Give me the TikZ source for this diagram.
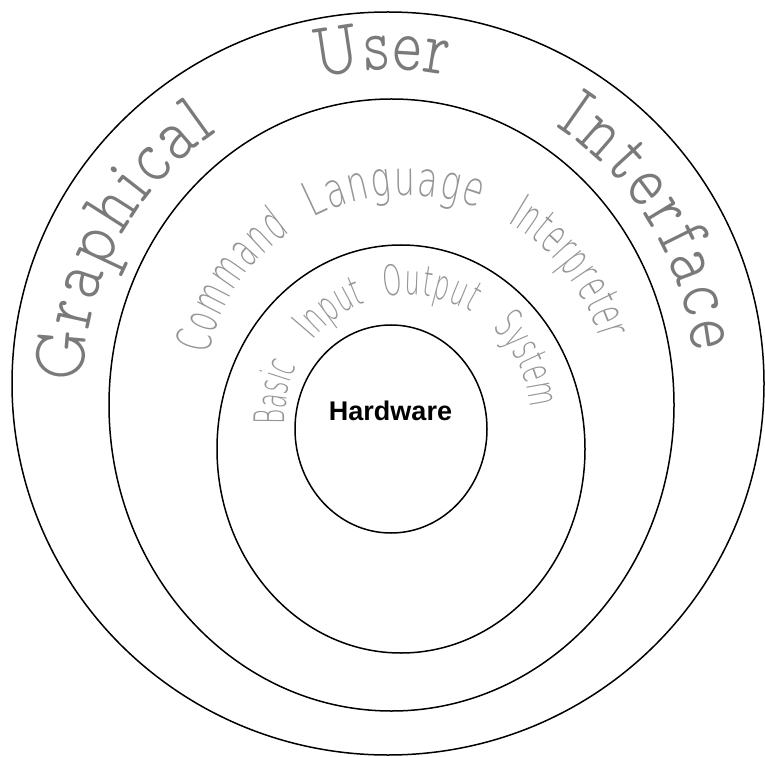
\documentclass[tikz,border=0pt]{standalone}
\usepackage{fontspec}
\usetikzlibrary{shapes.geometric,decorations.text}

% thin serif for the outer ring
\newfontfamily\guiface{lmmonoproplt10-regular.otf}[FakeStretch=0.8]

% thin condensed sans for the inner rings, one width per word
\IfFontExistsTF{DejaVuSans-ExtraLight.ttf}
  {\newcommand\layerfile{DejaVuSans-ExtraLight.ttf}}
  {\IfFontExistsTF{DejaVu Sans ExtraLight}
     {\newcommand\layerfile{DejaVu Sans ExtraLight}}
     {\newcommand\layerfile{DejaVu Sans}}}
\newcommand\layerfam[2]{\newfontfamily#1{\layerfile}[FakeStretch=#2]}
\layerfam\cliC{0.58}
\layerfam\cliL{0.69}
\layerfam\cliI{0.555}
\layerfam\biosB{0.55}
\layerfam\biosI{0.6}
\layerfam\biosO{0.58}
\layerfam\biosS{0.58}

\newfontfamily\hwface{Liberation Sans}

\newcommand\guifont{\guiface\fontsize{78}{80}\selectfont}
\newcommand\clisize{\fontsize{48}{50}\selectfont}
\newcommand\biossize{\fontsize{42}{44}\selectfont}

\definecolor{guigray}{HTML}{7A7A7A}
\definecolor{layergray}{HTML}{959595}

% word set clockwise along a circular arc: center, radius, start, end, font, colour, text
\newcommand\ringword[7]{%
  \path[decorate, decoration={text along path, text={|#5|#7},
        text align=fit to path, text color=#6}]
    (#1) ++(#3:#2pt) arc[start angle=#3, end angle=#4, radius=#2pt];}

\tikzset{ring/.style={draw=black, ellipse, inner sep=0pt, line width=1.5pt}}

\begin{document}
\begin{tikzpicture}[x=1pt, y=1pt]
  \fill[white] (0,0) rectangle (765,756);
  \useasboundingbox (0,0) rectangle (765,756);

  % the four layers
  \node[ring, minimum width=752pt, minimum height=743pt] (gui)  at (388,372.5) {};
  \node[ring, minimum width=565pt, minimum height=612pt] (cli)  at (391.5,351) {};
  \node[ring, minimum width=368pt, minimum height=408pt] (bios) at (401,307) {};
  \node[ring, minimum width=192pt, minimum height=208pt] (hw)   at (391,327) {};

  % centres of the lettering arcs
  \coordinate (guic)  at (387,373);
  \coordinate (clic)  at (406,359);
  \coordinate (biosc) at (408,338);

  \ringword{guic}{303}{180}{124}{\guifont}{guigray}{Graphical}
  \ringword{guic}{313}{103}{79}{\guifont}{guigray}{User}
  \ringword{guic}{307}{57}{6}{\guifont}{guigray}{Interface}

  \ringword{clic}{202}{168}{125}{\cliC\clisize}{layergray}{Command}
  \ringword{clic}{202}{117.7}{69}{\cliL\clisize}{layergray}{Language}
  \ringword{clic}{202}{60}{16.4}{\cliI\clisize}{layergray}{Interpreter}

  \ringword{biosc}{123}{183}{155}{\biosB\biossize}{layergray}{Basic}
  \ringword{biosc}{123}{141}{110}{\biosI\biossize}{layergray}{Input}
  \ringword{biosc}{123}{101}{59}{\biosO\biossize}{layergray}{Output}
  \ringword{biosc}{123}{47}{6}{\biosS\biossize}{layergray}{System}

  \node[font=\hwface\bfseries\fontsize{27}{29}\selectfont, anchor=base, inner sep=0pt]
    (hwlabel) at (390.5,336) {Hardware};
\end{tikzpicture}
\end{document}
